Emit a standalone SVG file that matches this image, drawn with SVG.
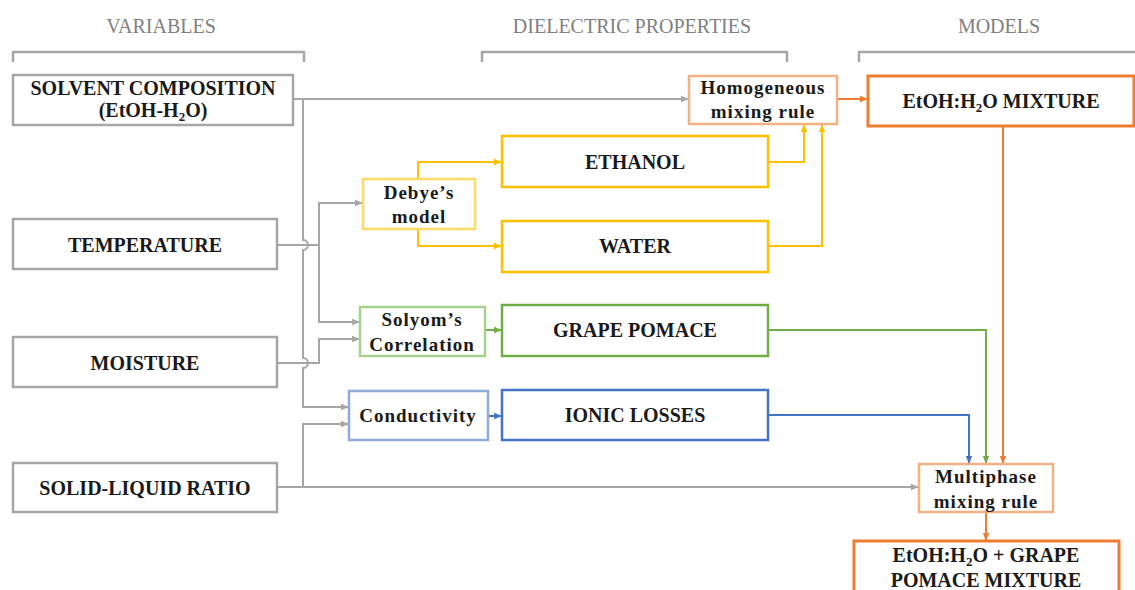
<svg xmlns="http://www.w3.org/2000/svg" width="1135" height="590" viewBox="0 0 1135 590">
<style>
.hdr{font-family:"Liberation Serif","Times New Roman",serif;font-size:20px;fill:#808080;text-anchor:middle}
.brk{fill:none;stroke:#a6a6a6;stroke-width:2.5;stroke-linejoin:round}
.t{font-family:"Liberation Serif","Times New Roman",serif;font-weight:bold;font-size:20px;fill:#1a1a1a;text-anchor:middle}
.s{font-family:"Liberation Serif","Times New Roman",serif;font-weight:bold;font-size:19px;letter-spacing:1px;fill:#1a1a1a;text-anchor:middle}
.box{fill:#fff;stroke-width:2.5}
.gray{stroke:#a6a6a6}
.orange{stroke:#ed7d31;stroke-width:3}
.lorange{stroke:#f4b183}
.yellow{stroke:#ffc000}
.lyellow{stroke:#ffd966}
.green{stroke:#70ad47}
.lgreen{stroke:#a9d18e}
.blue{stroke:#4472c4}
.lblue{stroke:#8faadc}
.c{fill:none;stroke-width:2}
</style>
<defs>
<marker id="ag" viewBox="0 0 10 10" refX="10" refY="5" markerWidth="8" markerHeight="8" markerUnits="userSpaceOnUse" orient="auto"><path d="M0,1 L10,5 L0,9 z" fill="#a6a6a6"/></marker>
<marker id="ao" viewBox="0 0 10 10" refX="10" refY="5" markerWidth="8" markerHeight="8" markerUnits="userSpaceOnUse" orient="auto"><path d="M0,1 L10,5 L0,9 z" fill="#ed7d31"/></marker>
<marker id="ay" viewBox="0 0 10 10" refX="10" refY="5" markerWidth="8" markerHeight="8" markerUnits="userSpaceOnUse" orient="auto"><path d="M0,1 L10,5 L0,9 z" fill="#ffc000"/></marker>
<marker id="agr" viewBox="0 0 10 10" refX="10" refY="5" markerWidth="8" markerHeight="8" markerUnits="userSpaceOnUse" orient="auto"><path d="M0,1 L10,5 L0,9 z" fill="#70ad47"/></marker>
<marker id="ab" viewBox="0 0 10 10" refX="10" refY="5" markerWidth="8" markerHeight="8" markerUnits="userSpaceOnUse" orient="auto"><path d="M0,1 L10,5 L0,9 z" fill="#4472c4"/></marker>
</defs>
<rect width="1135" height="590" fill="#fff"/>

<g id="headers">
<text class="hdr" x="161" y="33">VARIABLES</text>
<path class="brk" d="M13,62 V52 H304 V62"/>
<text class="hdr" x="632" y="33">DIELECTRIC PROPERTIES</text>
<path class="brk" d="M482,62 V52 H787 V62"/>
<text class="hdr" x="999" y="33">MODELS</text>
<path class="brk" d="M859,62 V52 H1140"/>
</g>

<g id="connectors">
<!-- gray -->
<path class="c gray" d="M293,99 H689" marker-end="url(#ag)"/>
<path class="c gray" d="M303,99 V240 a5,5 0 0 1 0,10 V358 a5,5 0 0 1 0,10 V407 H349" marker-end="url(#ag)"/>
<path class="c gray" d="M277,245 H319"/>
<path class="c gray" d="M319,245 V322 H360" marker-end="url(#ag)"/>
<path class="c gray" d="M319,245 V203 H363" marker-end="url(#ag)"/>
<path class="c gray" d="M277,363 H319 V339 H360" marker-end="url(#ag)"/>
<path class="c gray" d="M277,487 H919" marker-end="url(#ag)"/>
<path class="c gray" d="M303,487 V424 H349" marker-end="url(#ag)"/>
<!-- yellow -->
<path class="c yellow" d="M418,179 V162 H502" marker-end="url(#ay)"/>
<path class="c yellow" d="M418,229 V246 H502" marker-end="url(#ay)"/>
<path class="c yellow" d="M768,162 H804 V124" marker-end="url(#ay)"/>
<path class="c yellow" d="M768,246 H822 V124" marker-end="url(#ay)"/>
<!-- orange -->
<path class="c orange" d="M837,99 H868" marker-end="url(#ao)"/>
<path class="c orange" d="M1003,126 V464" marker-end="url(#ao)"/>
<path class="c orange" d="M986,512 V541" marker-end="url(#ao)"/>
<!-- green -->
<path class="c green" d="M485,330 H502" marker-end="url(#agr)"/>
<path class="c green" d="M768,330 H986 V464" marker-end="url(#agr)"/>
<!-- blue -->
<path class="c blue" d="M488,416 H502" marker-end="url(#ab)"/>
<path class="c blue" d="M768,415 H969 V464" marker-end="url(#ab)"/>
</g>

<g id="solvent">
<rect class="box gray" x="13" y="75" width="280" height="50"/>
<text class="t" x="153" y="95">SOLVENT COMPOSITION</text>
<text class="t" x="153" y="117">(EtOH-H<tspan font-size="13" dy="4">2</tspan><tspan dy="-4">O)</tspan></text>
</g>
<g id="temperature">
<rect class="box gray" x="13" y="219" width="264" height="50"/>
<text class="t" x="145" y="252">TEMPERATURE</text>
</g>
<g id="moisture">
<rect class="box gray" x="13" y="337" width="264" height="50"/>
<text class="t" x="145" y="370">MOISTURE</text>
</g>
<g id="solidliquid">
<rect class="box gray" x="13" y="463" width="264" height="49"/>
<text class="t" x="145" y="495">SOLID-LIQUID RATIO</text>
</g>

<g id="debye">
<rect class="box lyellow" x="363" y="179" width="112" height="50"/>
<text class="s" x="419" y="199">Debye’s</text>
<text class="s" x="419" y="223">model</text>
</g>
<g id="ethanol">
<rect class="box yellow" x="502" y="136" width="266" height="51"/>
<text class="t" x="635" y="169">ETHANOL</text>
</g>
<g id="water">
<rect class="box yellow" x="502" y="221" width="266" height="51"/>
<text class="t" x="635" y="253">WATER</text>
</g>
<g id="homogeneous">
<rect class="box lorange" x="689" y="76" width="148" height="48"/>
<text class="s" x="763" y="94">Homogeneous</text>
<text class="s" x="763" y="118">mixing rule</text>
</g>
<g id="mixture">
<rect class="box orange" x="868" y="76" width="266" height="50"/>
<text class="t" x="1001" y="108">EtOH:H<tspan font-size="13" dy="4">2</tspan><tspan dy="-4">O MIXTURE</tspan></text>
</g>
<g id="solyom">
<rect class="box lgreen" x="360" y="307" width="125" height="49"/>
<text class="s" x="422" y="326">Solyom’s</text>
<text class="s" x="422" y="351">Correlation</text>
</g>
<g id="grapepomace">
<rect class="box green" x="502" y="305" width="266" height="51"/>
<text class="t" x="635" y="337">GRAPE POMACE</text>
</g>
<g id="conductivity">
<rect class="box lblue" x="349" y="391" width="139" height="49"/>
<text class="s" x="418" y="422">Conductivity</text>
</g>
<g id="ioniclosses">
<rect class="box blue" x="502" y="390" width="266" height="50"/>
<text class="t" x="635" y="422">IONIC LOSSES</text>
</g>
<g id="multiphase">
<rect class="box lorange" x="919" y="464" width="134" height="48"/>
<text class="s" x="986" y="483">Multiphase</text>
<text class="s" x="986" y="508">mixing rule</text>
</g>
<g id="final">
<rect class="box orange" x="854" y="541" width="265" height="60"/>
<text class="t" x="986" y="562">EtOH:H<tspan font-size="13" dy="4">2</tspan><tspan dy="-4">O + GRAPE</tspan></text>
<text class="t" x="986" y="587">POMACE MIXTURE</text>
</g>
</svg>
